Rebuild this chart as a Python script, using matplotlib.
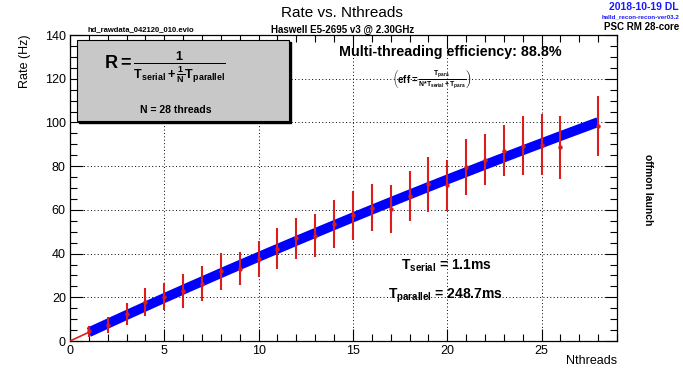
import matplotlib
matplotlib.use("Agg")
import matplotlib.pyplot as plt
from matplotlib.patches import Rectangle
from matplotlib.ticker import MultipleLocator
import numpy as np

plt.rcParams['font.family'] = ['Liberation Sans', 'DejaVu Sans']
plt.rcParams['mathtext.fontset'] = 'custom'
plt.rcParams['mathtext.rm'] = 'Liberation Sans:bold'
plt.rcParams['mathtext.bf'] = 'Liberation Sans:bold'
plt.rcParams['mathtext.it'] = 'Liberation Sans:bold'
plt.rcParams['mathtext.default'] = 'bf'

# measured rates (Hz) vs number of threads (no point at 27)
nthreads = [1, 2, 3, 4, 5, 6, 7, 8, 9, 10, 11, 12, 13, 14, 15, 16, 17, 18,
            19, 20, 21, 22, 23, 24, 25, 26, 28]
rate = [4.4, 7.2, 12.4, 17.8, 20.3, 22.9, 26.2, 31.8, 33.0, 37.6, 42.3, 46.9,
        48.2, 53.6, 57.5, 60.9, 60.3, 66.4, 71.7, 71.2, 79.6, 83.0, 87.0, 89.4,
        89.9, 88.7, 98.5]
rate_err = [2.5, 3.7, 5.0, 6.5, 6.3, 7.6, 8.0, 8.3, 7.5, 8.2, 9.3, 9.6, 9.8,
            10.9, 11.3, 10.8, 11.1, 11.4, 12.5, 11.7, 13.0, 11.6, 11.6, 13.5,
            13.8, 14.4, 13.8]

# fit results (ms)
t_serial = 1.1
t_parallel = 248.7
n_max = 28
efficiency = 88.8

red = '#dd1c1c'

fig = plt.figure(figsize=(6.83, 3.70), dpi=100)
ax = fig.add_axes([70/683, 1-341/370, (617-70)/683, (341-35)/370])

# fit function: thin red underneath, thick blue on top
nfit = np.linspace(0.001, n_max, 300)
ax.plot(nfit, 1000.0/(t_serial + t_parallel/nfit), color=red, lw=1.2, zorder=3)
nfit2 = np.linspace(1, n_max, 300)
ax.plot(nfit2, 1000.0/(t_serial + t_parallel/nfit2), color='#0000ff', lw=7,
        solid_capstyle='butt', zorder=4)

ax.errorbar(nthreads, rate, yerr=rate_err, fmt='o', ms=2.2, color=red,
            ecolor=red, elinewidth=1.5, capsize=0, zorder=5)

ax.set_xlim(0, 29)
ax.set_ylim(0, 140)
ax.xaxis.set_major_locator(MultipleLocator(5))
ax.xaxis.set_minor_locator(MultipleLocator(1))
ax.yaxis.set_major_locator(MultipleLocator(20))
ax.yaxis.set_minor_locator(MultipleLocator(5))
ax.tick_params(which='both', direction='in', top=True, right=True,
               labelsize=9, width=0.8, pad=3)
ax.tick_params(which='major', length=9)
ax.tick_params(which='minor', length=5)
ax.grid(True, which='major', linestyle=(0, (1, 2.5)), color='black', lw=0.7)
for s in ax.spines.values():
    s.set_linewidth(0.9)

ax.set_ylabel('Rate (Hz)', fontsize=9, ha='right')
ax.yaxis.set_label_coords(-0.072, 1.0)
ax.set_xlabel('Nthreads', fontsize=9, ha='right', va='center')
ax.xaxis.set_label_coords(1.0, -0.065)

# header texts
fig.text(0.5, 0.965, 'Rate vs. Nthreads', ha='center', va='center', fontsize=11)
fig.text(88/683, 1-30/370, 'hd_rawdata_042120_010.evio', ha='left', va='center',
         fontsize=5.5, fontweight='bold')
fig.text(343/683, 1-30/370, 'Haswell E5-2695 v3 @ 2.30GHz', ha='center',
         va='center', fontsize=7, fontweight='bold')
fig.text(679/683, 1-7/370, '2018-10-19 DL', ha='right', va='center',
         fontsize=7.5, fontweight='bold', color='#1a1aff')
fig.text(679/683, 1-17/370, 'halld_recon-recon-ver03.2', ha='right',
         va='center', fontsize=4.5, fontweight='bold', color='#1a1aff')
fig.text(679/683, 1-27/370, 'PSC RM 28-core', ha='right', va='center',
         fontsize=7, fontweight='bold')
fig.text(648/683, 1-190/370, 'offmon launch', ha='center', va='center',
         rotation=-90, fontsize=7.5, fontweight='bold')

# formula box with shadow
bx0, by0, bx1, by1 = 77, 40, 289, 121
fig.patches.append(Rectangle(((bx0+2)/683, 1-(by1+2)/370), (bx1-bx0)/683,
                             (by1-by0)/370, transform=fig.transFigure,
                             facecolor='black', edgecolor='black', zorder=6))
fig.patches.append(Rectangle((bx0/683, 1-by1/370), (bx1-bx0)/683,
                             (by1-by0)/370, transform=fig.transFigure,
                             facecolor='#c8c8c8', edgecolor='black', lw=0.8,
                             zorder=7))
fig.text(165/683, 1-67/370,
         r'$R = \frac{1}{T_{serial} + \frac{1}{N}T_{parallel}}$',
         ha='center', va='center', fontsize=13, zorder=8)
fig.text(176/683, 1-110/370, 'N = %d threads' % n_max, ha='center',
         va='center', fontsize=7.5, fontweight='bold', zorder=8)

fig.text(450/683, 1-52/370, 'Multi-threading efficiency: %.1f%%' % efficiency,
         ha='center', va='center', fontsize=10.3, fontweight='bold')
fig.text(432/683, 1-80/370,
         r'$\left(eff = \frac{T_{para}}{N{*}T_{serial} + T_{para}}\right)$',
         ha='center', va='center', fontsize=7)

fig.text(446/683, 1-266/370, r'$T_{serial}$ = %.1fms' % t_serial,
         ha='center', va='center', fontsize=10, fontweight='bold')
fig.text(446/683, 1-296/370, r'$T_{parallel}$ = %.1fms' % t_parallel,
         ha='center', va='center', fontsize=10, fontweight='bold')

fig.savefig('out.png', dpi=100)
